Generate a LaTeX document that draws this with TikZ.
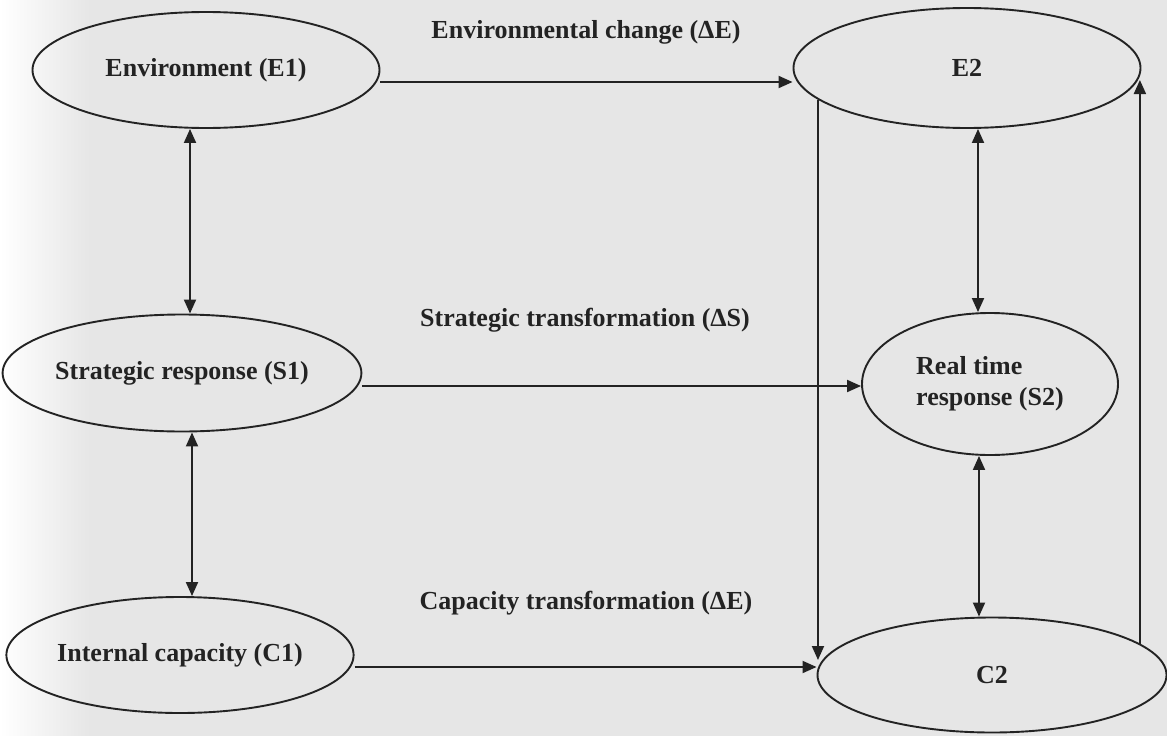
\documentclass[tikz,border=0pt]{standalone}
\usepackage{fontspec}
\setmainfont{Liberation Serif}
\usetikzlibrary{shapes.geometric,arrows.meta,calc}
\definecolor{bg}{RGB}{230,230,230}
\definecolor{ink}{RGB}{35,35,35}
\begin{document}
\begin{tikzpicture}[x=1pt,y=-1pt,
  ell/.style={ellipse,draw=ink,line width=1.9pt,inner sep=0pt,
    font=\fontsize{26}{31}\selectfont\bfseries,text=ink},
  lbl/.style={font=\fontsize{26}{31}\selectfont\bfseries,text=ink,inner sep=0pt},
  tip/.tip={Triangle[length=14pt,width=12pt]},
  conn/.style={draw=ink,line width=1.9pt,-tip},
  both/.style={draw=ink,line width=1.9pt,tip-tip}]
\useasboundingbox (0,0) rectangle (1167,736);
\fill[bg] (0,0) rectangle (1167,736);
\shade[left color=white,right color=bg] (0,0) rectangle (90,736);

% nodes
\node[ell,minimum width=347pt,minimum height=116pt] (E1) at (206,70) {Environment (E1)};
\node[ell,minimum width=343pt,minimum height=117pt] (S1) at (182,373) {Strategic response (S1)};
\node[ell,minimum width=345pt,minimum height=116pt] (C1) at (180,655) {Internal capacity (C1)};
\node[ell,minimum width=347pt,minimum height=120pt] (E2) at (967,68) {E2};
\node[ell,minimum width=256pt,minimum height=142pt,align=left] (S2) at (990,384) {Real time\\response (S2)};
\node[ell,minimum width=349pt,minimum height=115pt] (C2) at (992,675) {C2};

% labels
\node[lbl] (lE) at (586,32) {Environmental change (ΔE)};
\node[lbl] (lS) at (585,320) {Strategic transformation (ΔS)};
\node[lbl] (lC) at (586,603) {Capacity transformation (ΔE)};

% helper coordinates
\coordinate (x190) at (190,0);
\coordinate (x192) at (192,0);
\coordinate (x978) at (978,0);
\coordinate (x979) at (979,0);
\coordinate (y82) at (0,82);
\coordinate (y386) at (0,386);
\coordinate (y667) at (0,667);
\coordinate (e2r) at ($(E2.east)+(0,12)$);
\coordinate (c2l) at ($(C2.west)+(1,-15)$);

% connectors
\draw[both] (E1.south -| x190) -- (S1.north -| x190);
\draw[both] (S1.south -| x192) -- (C1.north -| x192);
\draw[conn] (E1.east |- y82) -- (E2.west |- y82);
\draw[conn] (S1.east |- y386) -- (S2.west |- y386);
\draw[conn] (C1.east |- y667) -- (C2.west |- y667);
\draw[both] (E2.south -| x978) -- (S2.north -| x978);
\draw[both] (S2.south -| x979) -- (C2.north -| x979);
\draw[conn] (E2.192) -- (E2.192 |- c2l);
\draw[conn] (C2.12) -- (C2.12 |- e2r);
\end{tikzpicture}
\end{document}
